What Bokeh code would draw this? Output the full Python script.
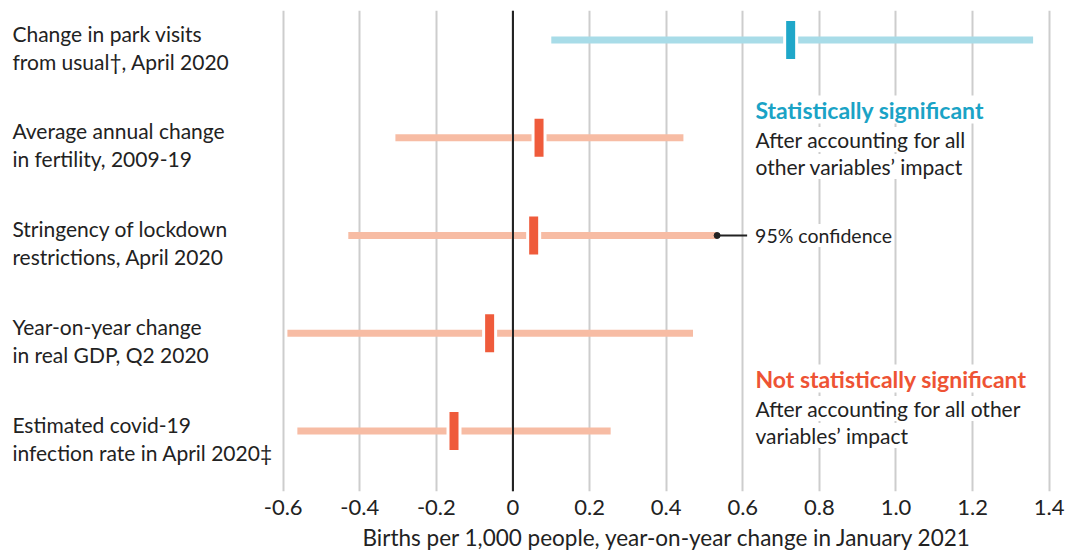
from bokeh.plotting import figure
from bokeh.models import Range1d, FixedTicker, Span, Title
from bokeh.embed import file_html
from bokeh.resources import INLINE
from bokeh.core.properties import value

# ---- data ----
label_line1 = ["Change in park visits", "Average annual change", "Stringency of lockdown",
               "Year-on-year change", "Estimated covid-19"]
label_line2 = ["from usual\u2020, April 2020", "in fertility, 2009-19", "restrictions, April 2020",
               "in real GDP, Q2 2020", "infection rate in April 2020\u2021"]
estimate = [0.725, 0.068, 0.054, -0.061, -0.154]
ci_low = [0.10, -0.307, -0.43, -0.589, -0.563]
ci_high = [1.358, 0.445, 0.533, 0.47, 0.255]
significant = [True, False, False, False, False]
tick_values = [-0.6, -0.4, -0.2, 0, 0.2, 0.4, 0.6, 0.8, 1.0, 1.2, 1.4]
tick_labels = ["-0.6", "-0.4", "-0.2", "0", "0.2", "0.4", "0.6", "0.8", "1.0", "1.2", "1.4"]
axis_title = "Births per 1,000 people, year-on-year change in January 2021"
sig_title = "Statistically significant"
not_sig_title = "Not statistically significant"
sig_note = ["After accounting for all", "other variables\u2019 impact"]
not_sig_note = ["After accounting for all other", "variables\u2019 impact"]
ci_note = "95% confidence"

# ---- style ----
FONT = value("Lato")
TXT = "#222222"
BLUE_LINE, BLUE_MARK, BLUE_TXT = "#A8DCE8", "#1FA7C9", "#1AA3C6"
RED_LINE, RED_MARK, RED_TXT = "#F7BCA4", "#EF5B3B", "#EE5334"
PXX = 1 / 383.0     # data units per px (x)
PXY = 1 / 97.75     # row units per px (y)

rows = list(range(len(label_line1)))

p = figure(width=1083, height=557, output_backend="svg", toolbar_location=None,
           x_range=Range1d(-1.3381, 1.4896), y_range=Range1d(4.619, -0.302),
           y_axis_location=None, min_border_left=0, min_border_right=0,
           min_border_top=10, min_border_bottom=66)
p.outline_line_color = None
p.background_fill_color = "white"
p.border_fill_color = "white"

# grid / axis
p.xaxis.ticker = FixedTicker(ticks=tick_values)
p.xaxis.major_label_overrides = dict(zip(tick_values, tick_labels))
p.xaxis.axis_line_color = None
p.xaxis.major_tick_line_color = None
p.xaxis.minor_tick_line_color = None
p.xaxis.major_label_text_font = "Lato"
p.xaxis.major_label_text_font_size = "22px"
p.xaxis.major_label_text_color = TXT
p.xaxis.major_label_standoff = 2
p.xgrid.grid_line_color = "#cdcdcd"
p.xgrid.grid_line_width = 2
p.ygrid.visible = False
p.add_layout(Span(location=0, dimension="height", line_color="#222222", line_width=2))

p.add_layout(Title(text=axis_title, align="left", offset=362, text_font="Lato",
                   text_font_size="22.5px", text_font_style="normal", text_color=TXT,
                   standoff=9), "below")

line_cols = [BLUE_LINE if s else RED_LINE for s in significant]
mark_cols = [BLUE_MARK if s else RED_MARK for s in significant]

p.segment(x0=ci_low, y0=rows, x1=ci_high, y1=rows, line_width=7,
          line_color=line_cols, line_cap="butt")
p.rect(x=estimate, y=rows, width=15, height=44, width_units="screen",
       height_units="screen", fill_color="white", line_color=None)
p.rect(x=estimate, y=rows, width=9, height=38, width_units="screen",
       height_units="screen", fill_color=mark_cols, line_color=None)

# 95% confidence callout on the lockdown row
k = 2
p.segment(x0=[ci_high[k]], y0=[k], x1=[ci_high[k] + 30 * PXX], y1=[k],
          line_color=TXT, line_width=2)
p.scatter(x=[ci_high[k]], y=[k], size=6, color=TXT)
p.text(x=[ci_high[k] + 38 * PXX], y=[k], text=[ci_note], text_font=FONT,
       text_font_size="19.5px", text_color=TXT, text_baseline="middle",
       background_fill_color="white")

# row labels
lx = -1.307
p.text(x=[lx] * len(rows), y=[r - 6.8 * PXY for r in rows], text=label_line1,
       text_font=FONT, text_font_size="21px", text_color=TXT, text_baseline="alphabetic")
p.text(x=[lx] * len(rows), y=[r + 21.2 * PXY for r in rows], text=label_line2,
       text_font=FONT, text_font_size="21px", text_color=TXT, text_baseline="alphabetic")

# legend notes
nx = 0.633
p.text(x=[nx], y=[0.711], text=[sig_title], text_font=FONT, text_font_size="23px",
       text_font_style="bold", text_color=BLUE_TXT, text_baseline="alphabetic",
       background_fill_color="white")
p.text(x=[nx, nx], y=[1.018, 1.294], text=sig_note, text_font=FONT, text_font_size="21px",
       text_color=TXT, text_baseline="alphabetic", background_fill_color="white")
p.text(x=[nx], y=[3.463], text=[not_sig_title], text_font=FONT, text_font_size="23px",
       text_font_style="bold", text_color=RED_TXT, text_baseline="alphabetic",
       background_fill_color="white")
p.text(x=[nx, nx], y=[3.770, 4.046], text=not_sig_note, text_font=FONT, text_font_size="21px",
       text_color=TXT, text_baseline="alphabetic", background_fill_color="white")

open("out.html", "w").write(file_html(p, INLINE))
